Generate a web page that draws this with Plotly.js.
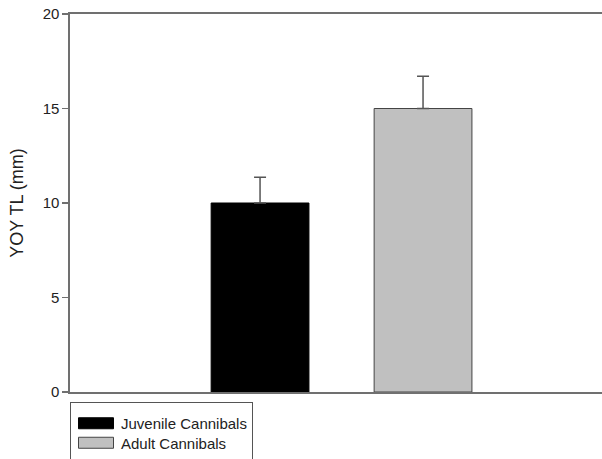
<!DOCTYPE html>
<html>
<head>
<meta charset="utf-8">
<script src="https://cdn.plot.ly/plotly-3.0.1.min.js"></script>
<style>html,body{margin:0;padding:0;background:#fff;}#chart{width:602px;height:459px;}</style>
</head>
<body>
<div id="chart"></div>
<script>
const categories = ['Juvenile Cannibals', 'Adult Cannibals'];
const xPositions = [0, 1];
const meanTL = [10.0, 15.0];
const errTL = [1.36, 1.71];
const barColors = ['#000000', '#c0c0c0'];
const barLines = ['#000000', '#444444'];
const yTicks = [0, 5, 10, 15, 20];

const font = 'Liberation Sans, Arial, sans-serif';

const traces = categories.map((name, i) => ({
  type: 'bar',
  name: name,
  x: [xPositions[i]],
  y: [meanTL[i]],
  width: [0.6],
  marker: {color: barColors[i], line: {color: barLines[i], width: 1}},
  error_y: {type: 'data', symmetric: false, array: [errTL[i]], arrayminus: [0],
            color: '#555555', thickness: 1.5, width: 6},
  hoverinfo: 'skip'
}));

const layout = {
  width: 602, height: 459,
  margin: {l: 70, r: 0, t: 14, b: 66},
  paper_bgcolor: '#fff', plot_bgcolor: '#fff',
  barmode: 'overlay',
  font: {family: font, color: '#222', size: 15},
  showlegend: true,
  legend: {
    x: 0, xanchor: 'left', y: -0.0264, yanchor: 'top',
    bordercolor: '#555', borderwidth: 1, bgcolor: '#fff',
    font: {family: font, size: 15, color: '#222'},
    itemwidth: 40, traceorder: 'normal'
  },
  xaxis: {
    range: [-1.166, 2.098], showticklabels: false, ticks: '',
    showline: true, mirror: true, linecolor: '#707070', linewidth: 1.6,
    showgrid: false, zeroline: false, fixedrange: true
  },
  yaxis: {
    range: [0, 20], tickvals: yTicks, ticktext: yTicks.map(String),
    ticks: 'outside', ticklen: 6, tickcolor: '#707070', tickwidth: 1.5,
    showline: true, linecolor: '#707070', linewidth: 1.6,
    showgrid: false, zeroline: false,
    tickfont: {family: font, size: 15, color: '#222'},
    title: {text: 'YOY TL (mm)', font: {family: font, size: 18, color: '#222'}, standoff: 14}
  }
};

Plotly.newPlot('chart', traces, layout, {displayModeBar: false, staticPlot: true}).then(() => {
  try {
    document.querySelectorAll('.legend .legendpoints path').forEach(p => {
      p.setAttribute('d', 'M-17.5,5.5H17.5V-5.5H-17.5Z');
    });
    const shifts = [4, 1];
    document.querySelectorAll('.legend .traces').forEach((g, i) => {
      const t = g.getAttribute('transform') || '';
      const m = t.match(/translate\(([-\d.e]+)[ ,]+([-\d.e]+)\)/);
      if (m) {
        g.setAttribute('transform', 'translate(' + m[1] + ',' + (parseFloat(m[2]) + (shifts[i] || 0)) + ')');
      }
    });
    document.querySelectorAll('.legend rect.bg').forEach(r => {
      const h = parseFloat(r.getAttribute('height'));
      if (isFinite(h)) r.setAttribute('height', h + 20);
    });
  } catch (e) {}
});
</script>
</body>
</html>
